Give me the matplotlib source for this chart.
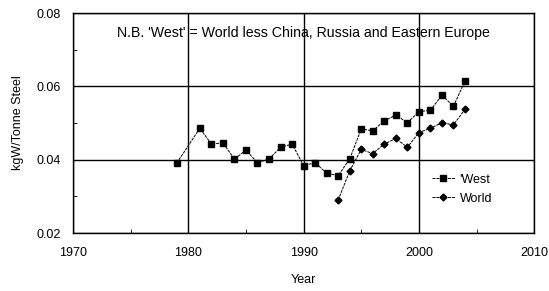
import matplotlib.pyplot as plt
from matplotlib.ticker import MultipleLocator

plt.rcParams['font.family'] = ['Liberation Sans', 'DejaVu Sans']

# West = World less China, Russia and Eastern Europe
west_years = list(range(1979, 2005))
west_years.remove(1980)
west = [0.0391, 0.0486, 0.0443, 0.0446, 0.0402, 0.0426, 0.0392, 0.0402,
        0.0434, 0.0443, 0.0384, 0.0392, 0.0363, 0.0357, 0.0402, 0.0484,
        0.0479, 0.0506, 0.0522, 0.0501, 0.0531, 0.0535, 0.0576, 0.0546,
        0.0615]

world_years = list(range(1993, 2005))
world = [0.0290, 0.0370, 0.0428, 0.0417, 0.0443, 0.0458, 0.0434, 0.0474,
         0.0486, 0.0501, 0.0495, 0.0538]

fig = plt.figure(figsize=(5.49, 2.91), dpi=100)
ax = fig.add_axes([0.133, 0.199, 0.840, 0.756])

ax.plot(west_years, west, color='black', marker='s', markersize=5,
        linestyle=(0, (3, 1)), linewidth=0.7, label="'West")
ax.plot(world_years, world, color='black', marker='D', markersize=3.5,
        linestyle=(0, (3, 1)), linewidth=0.7, label='World')

ax.set_xlim(1970, 2010)
ax.set_ylim(0.02, 0.08)
ax.xaxis.set_major_locator(MultipleLocator(10))
ax.xaxis.set_minor_locator(MultipleLocator(5))
ax.yaxis.set_major_locator(MultipleLocator(0.02))
ax.yaxis.set_minor_locator(MultipleLocator(0.01))
ax.grid(True, which='major', color='black', linewidth=1.0)
ax.tick_params(which='both', direction='in', labelsize=9, top=False, right=False)
ax.tick_params(axis='x', which='major', length=0, pad=10)
ax.tick_params(axis='y', which='major', length=0, pad=9)
ax.tick_params(which='minor', length=3)
for s in ax.spines.values():
    s.set_linewidth(1.0)

ax.set_xlabel('Year', fontsize=9, labelpad=11)
ax.set_ylabel('kgW/Tonne Steel', fontsize=9, labelpad=9)

ax.text(0.5, 0.91, "N.B. 'West' = World less China, Russia and Eastern Europe",
        transform=ax.transAxes, ha='center', va='center', fontsize=10.2)

leg = ax.legend(loc='center left', bbox_to_anchor=(0.76, 0.2), frameon=False,
                fontsize=9, handlelength=1.8, handletextpad=0.4,
                borderpad=0.2, labelspacing=0.55)

fig.savefig('out.png', dpi=100)
